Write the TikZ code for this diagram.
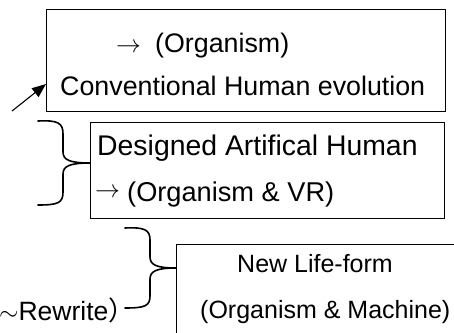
\documentclass[tikz,border=0pt]{standalone}
\usepackage{fontspec}
\setmainfont{Liberation Sans}
\newfontfamily\cjkfont{Noto Sans CJK JP}
\usetikzlibrary{arrows.meta}
\begin{document}
\begin{tikzpicture}[x=1pt,y=-1pt,
  box/.style={draw, line width=1pt, inner sep=0pt},
  txt/.style={anchor=base west, inner sep=0pt},
  bracepath/.style={line width=1.6pt, line cap=round},
  conn/.style={line width=1.1pt, -{Triangle[length=14pt,width=11pt]}}]
\useasboundingbox (0,0) rectangle (454,332);
\clip (0,0) rectangle (454,332);
% boxes
\node[box, minimum width=399pt, minimum height=102pt] (box1) at (245.5,60) {};
\node[box, minimum width=354pt, minimum height=96pt] (box2) at (267,170) {};
\node[box, minimum width=300pt, minimum height=110pt] (box3) at (326,299) {};
% texts box 1
\node[txt] (t1a) at (116,52) {\fontsize{26.8}{30}\selectfont $\rightarrow$};
\node[txt] (t1b) at (155,52) {\fontsize{26.8}{30}\selectfont (Organism)};
\node[txt] (t1c) at (60,95) {\fontsize{26.8}{30}\selectfont Conventional Human evolution};
% texts box 2
\node[txt] (t2a) at (97,155) {\fontsize{28.4}{32}\selectfont Designed Artifical Human};
\node[anchor=west, inner sep=0pt] (t2b) at (95,193) {\fontsize{24}{26}\selectfont $\rightarrow$};
\node[txt] (t2c) at (127,201) {\fontsize{27.2}{32}\selectfont (Organism \& VR)};
% texts box 3
\node[txt] (t3a) at (237,272) {\fontsize{25}{28}\selectfont New Life-form};
\node[txt] (t3b) at (200,318) {\fontsize{25}{28}\selectfont (Organism \& Machine)};
% rewrite label
\node[txt] (rw) at (-1,320) {\fontsize{26.5}{30}\selectfont $\sim$Rewrite{\cjkfont ）}};
% arrow
\coordinate (a0) at (12,111);
\coordinate (a1) at (46,84);
\draw[conn] (a0) -- (a1);
% brace 1
\coordinate (b1top) at (38,121);
\coordinate (b1tip) at (90,163);
\coordinate (b1bot) at (38,205);
\draw[bracepath] (b1top) .. controls (58,120) and (63,123) .. (63,134) -- (63,152)
  .. controls (63,160) and (70,163) .. (b1tip)
  .. controls (70,163) and (63,166) .. (63,174) -- (63,192)
  .. controls (63,203) and (58,205) .. (b1bot);
% brace 2
\coordinate (b2top) at (125,228);
\coordinate (b2tip) at (176,268);
\coordinate (b2bot) at (125,308);
\draw[bracepath] (b2top) .. controls (145,227) and (150,230) .. (150,240) -- (150,257)
  .. controls (150,265) and (157,268) .. (b2tip)
  .. controls (157,268) and (150,271) .. (150,279) -- (150,296)
  .. controls (150,306) and (145,308) .. (b2bot);
\end{tikzpicture}
\end{document}
